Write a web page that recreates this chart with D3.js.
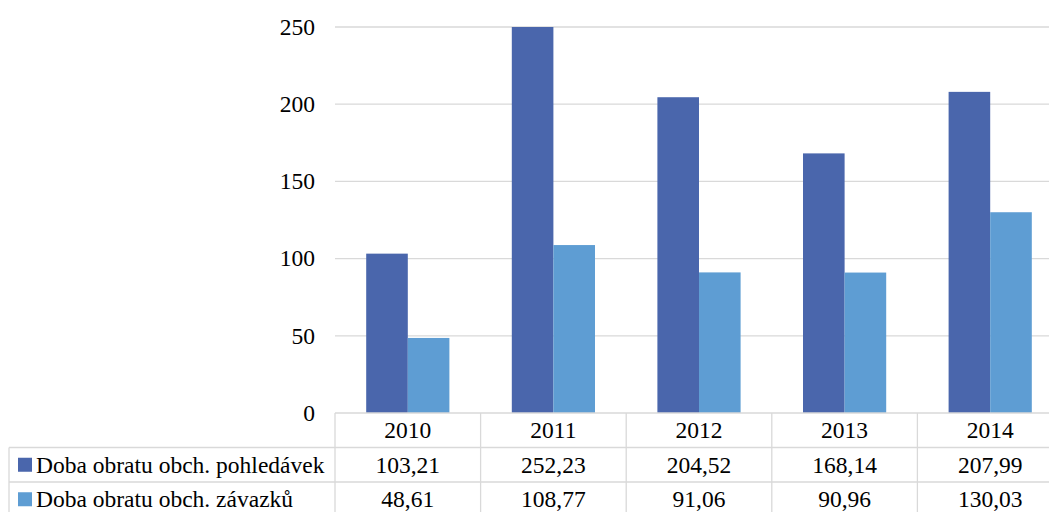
<!DOCTYPE html>
<html>
<head>
<meta charset="utf-8">
<script src="https://cdn.jsdelivr.net/npm/d3@7"></script>
<style>
  body { margin: 0; background: #fff; }
</style>
</head>
<body>
<svg id="chart" width="1049" height="512" font-family="'Liberation Serif', 'Times New Roman', serif"></svg>
<script>
const years = ["2010", "2011", "2012", "2013", "2014"]
const seriesNames = ["Doba obratu obch. pohledávek", "Doba obratu obch. závazků"]
const receivables = [103.21, 252.23, 204.52, 168.14, 207.99]
const payables = [48.61, 108.77, 91.06, 90.96, 130.03]
const yTicks = [0, 50, 100, 150, 200, 250]
const colors = ["#4a66ac", "#5e9dd3"]

const svg = d3.select("#chart")
const plotLeft = 335, plotRight = 1063, plotTop = 27, plotBottom = 413
const rowH = 34.5
const tableLeft = 9
const fontSize = "23.5px"

const x = d3.scaleBand().domain(years).range([plotLeft, plotRight]).paddingInner(0).paddingOuter(0)
const xs = d3.scaleBand().domain([0, 1]).range([0, x.bandwidth()]).paddingInner(0).paddingOuter(0.75)
const y = d3.scaleLinear().domain([0, 250]).range([plotBottom, plotTop])

const fmt = v => d3.format(".2f")(v).replace(".", ",")

// grid
svg.append("g").selectAll("line")
    .data(yTicks.slice(1))
    .enter().append("line")
    .attr("x1", plotLeft).attr("x2", 1049)
    .attr("y1", d => y(d)).attr("y2", d => y(d))
    .attr("stroke", "#d9d9d9").attr("stroke-width", 1.3)

// y labels
svg.append("g").selectAll("text")
    .data(yTicks)
    .enter().append("text")
    .attr("x", 315).attr("y", d => y(d))
    .attr("dy", "0.33em")
    .attr("text-anchor", "end")
    .style("font-size", fontSize)
    .text(d => d)

// bars
const data = [receivables, payables]
const defs = svg.append("defs")
defs.append("clipPath").attr("id", "plot")
    .append("rect").attr("x", plotLeft).attr("y", plotTop)
    .attr("width", plotRight - plotLeft).attr("height", plotBottom - plotTop)

const bars = svg.append("g").attr("clip-path", "url(#plot)")
data.forEach((vals, s) => {
    bars.selectAll(".s" + s)
        .data(vals)
        .enter().append("rect")
        .attr("class", "s" + s)
        .attr("x", (d, i) => x(years[i]) + xs(s))
        .attr("width", xs.bandwidth())
        .attr("y", d => y(d))
        .attr("height", d => plotBottom - y(d))
        .attr("fill", colors[s])
})

// data table
const table = svg.append("g")
const lineCol = "#d9d9d9"
table.append("line").attr("x1", plotLeft).attr("x2", 1049)
    .attr("y1", plotBottom).attr("y2", plotBottom)
    .attr("stroke", lineCol).attr("stroke-width", 1.3)
;[1, 2, 3].forEach(r => {
    table.append("line").attr("x1", tableLeft).attr("x2", 1049)
        .attr("y1", plotBottom + r * rowH).attr("y2", plotBottom + r * rowH)
        .attr("stroke", lineCol).attr("stroke-width", 1.3)
})
years.forEach(yr => {
    table.append("line").attr("x1", x(yr)).attr("x2", x(yr))
        .attr("y1", plotBottom).attr("y2", 512)
        .attr("stroke", lineCol).attr("stroke-width", 1.3)
})
table.append("line").attr("x1", tableLeft).attr("x2", tableLeft)
    .attr("y1", plotBottom + rowH).attr("y2", 512)
    .attr("stroke", lineCol).attr("stroke-width", 1.3)

// header
table.selectAll(".yr")
    .data(years)
    .enter().append("text")
    .attr("x", d => x(d) + x.bandwidth() / 2)
    .attr("y", plotBottom + rowH / 2)
    .attr("dy", "0.33em")
    .attr("text-anchor", "middle")
    .style("font-size", fontSize)
    .text(d => d)

data.forEach((vals, s) => {
    const cy = plotBottom + rowH * (s + 1) + rowH / 2
    table.append("rect")
        .attr("x", 18).attr("y", cy - 7).attr("width", 14).attr("height", 14)
        .attr("fill", colors[s])
    table.append("text")
        .attr("x", 36).attr("y", cy).attr("dy", "0.33em")
        .style("font-size", fontSize)
        .text(seriesNames[s])
    table.selectAll(".v" + s)
        .data(vals)
        .enter().append("text")
        .attr("x", (d, i) => x(years[i]) + x.bandwidth() / 2)
        .attr("y", cy).attr("dy", "0.33em")
        .attr("text-anchor", "middle")
        .style("font-size", fontSize)
        .text(d => fmt(d))
})
</script>
</body>
</html>
